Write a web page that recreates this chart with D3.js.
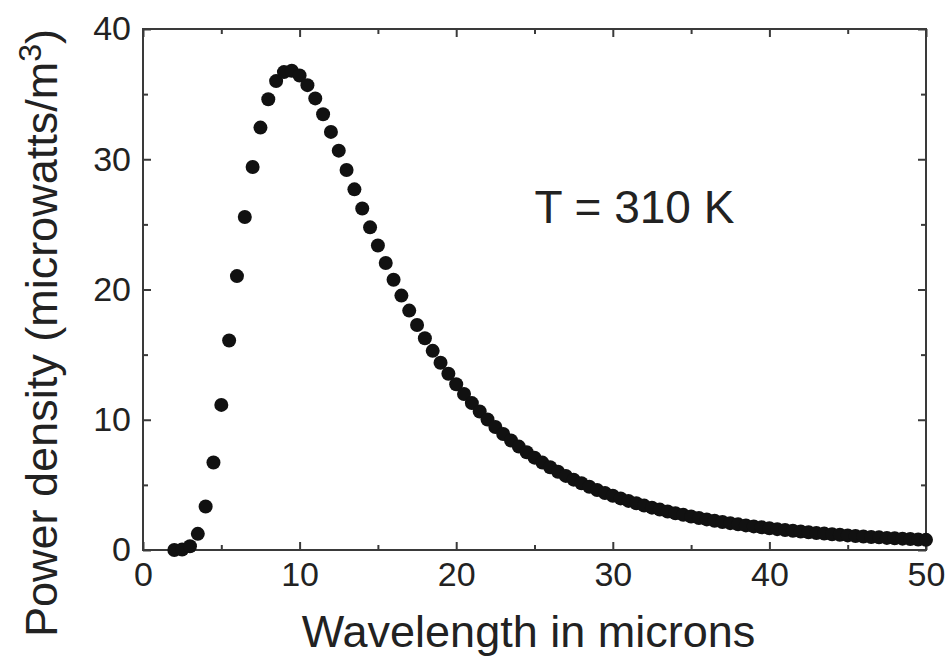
<!DOCTYPE html>
<html>
<head>
<meta charset="utf-8">
<script src="https://d3js.org/d3.v7.min.js"></script>
<style>
    body { margin: 0; background: #fff; }
    text { font-family: "Liberation Sans", Arial, Helvetica, sans-serif; fill: #222; }
</style>
</head>
<body>
<svg id="drawing_region"></svg>
<script>
// wavelength (microns) of each measured point
const wavelengths = [
    2, 2.5, 3, 3.5, 4, 4.5, 5, 5.5, 6, 6.5, 7, 7.5, 8, 8.5, 9, 9.5, 10, 10.5,
    11, 11.5, 12, 12.5, 13, 13.5, 14, 14.5, 15, 15.5, 16, 16.5, 17, 17.5, 18, 18.5,
    19, 19.5, 20, 20.5, 21, 21.5, 22, 22.5, 23, 23.5, 24, 24.5, 25, 25.5, 26, 26.5,
    27, 27.5, 28, 28.5, 29, 29.5, 30, 30.5, 31, 31.5, 32, 32.5, 33, 33.5, 34, 34.5,
    35, 35.5, 36, 36.5, 37, 37.5, 38, 38.5, 39, 39.5, 40, 40.5, 41, 41.5, 42, 42.5,
    43, 43.5, 44, 44.5, 45, 45.5, 46, 46.5, 47, 47.5, 48, 48.5, 49, 49.5, 50
];

// power density (microwatts/m3)
const power = [
    0.001, 0.033, 0.29, 1.24, 3.34, 6.72, 11.14, 16.08, 21.03, 25.57, 29.41, 32.43, 34.61, 36.00, 36.69, 36.80, 36.43, 35.69,
    34.67, 33.45, 32.10, 30.66, 29.18, 27.69, 26.22, 24.77, 23.38, 22.03, 20.75, 19.53, 18.38, 17.28, 16.26, 15.29,
    14.38, 13.53, 12.73, 11.98, 11.28, 10.63, 10.02, 9.44, 8.91, 8.41, 7.94, 7.50, 7.09, 6.71, 6.35, 6.01,
    5.69, 5.40, 5.12, 4.86, 4.61, 4.38, 4.16, 3.96, 3.77, 3.59, 3.41, 3.25, 3.10, 2.96, 2.82, 2.70,
    2.57, 2.46, 2.35, 2.25, 2.15, 2.06, 1.97, 1.89, 1.81, 1.74, 1.67, 1.60, 1.54, 1.48, 1.42, 1.36,
    1.31, 1.26, 1.21, 1.17, 1.12, 1.08, 1.04, 1.00, 0.97, 0.93, 0.90, 0.87, 0.84, 0.81, 0.78
];

const x_ticks = [0, 10, 20, 30, 40, 50];
const x_minor = [5, 15, 25, 35, 45];
const y_ticks = [0, 10, 20, 30, 40];
const y_minor = [5, 15, 25, 35];

const data = wavelengths.map((w, i) => ({ x: w, y: power[i] }));

var config = {
    parent: '#drawing_region',
    width: 946,
    height: 658,
    margin: { top: 29, right: 20, bottom: 108, left: 143 }
};

const svg = d3.select(config.parent)
    .attr('width', config.width)
    .attr('height', config.height);

const inner_width = config.width - config.margin.left - config.margin.right;
const inner_height = config.height - config.margin.top - config.margin.bottom;

const chart = svg.append('g')
    .attr('transform', `translate(${config.margin.left}, ${config.margin.top})`);

const xscale = d3.scaleLinear()
    .domain([0, 50])
    .range([0, inner_width]);

const yscale = d3.scaleLinear()
    .domain([0, 40])
    .range([inner_height, 0]);

// frame
chart.append('rect')
    .attr('width', inner_width)
    .attr('height', inner_height)
    .attr('fill', 'none')
    .attr('stroke', '#3a3a3a')
    .attr('stroke-width', 2);

function styleAxis(g) {
    g.select('.domain').remove();
    g.selectAll('.tick line').attr('stroke', '#3a3a3a').attr('stroke-width', 2);
    g.selectAll('.tick text')
        .attr('font-size', '34px')
        .attr('fill', '#222')
        .attr('font-family', '"Liberation Sans", Arial, sans-serif');
}

// bottom axis, ticks pointing inwards
chart.append('g')
    .attr('transform', `translate(0, ${inner_height})`)
    .call(d3.axisBottom(xscale).tickValues(x_ticks).tickSizeInner(-8).tickSizeOuter(0).tickPadding(12))
    .call(styleAxis);
chart.append('g')
    .attr('transform', `translate(0, ${inner_height})`)
    .call(d3.axisBottom(xscale).tickValues(x_minor).tickSizeInner(-5).tickSizeOuter(0).tickFormat(''))
    .call(styleAxis);

// top axis
chart.append('g')
    .call(d3.axisTop(xscale).tickValues(x_ticks).tickSizeInner(-8).tickSizeOuter(0).tickFormat(''))
    .call(styleAxis);
chart.append('g')
    .call(d3.axisTop(xscale).tickValues(x_minor).tickSizeInner(-5).tickSizeOuter(0).tickFormat(''))
    .call(styleAxis);

// left axis
chart.append('g')
    .call(d3.axisLeft(yscale).tickValues(y_ticks).tickSizeInner(-8).tickSizeOuter(0).tickPadding(12))
    .call(styleAxis);
chart.append('g')
    .call(d3.axisLeft(yscale).tickValues(y_minor).tickSizeInner(-5).tickSizeOuter(0).tickFormat(''))
    .call(styleAxis);

// right axis
chart.append('g')
    .attr('transform', `translate(${inner_width}, 0)`)
    .call(d3.axisRight(yscale).tickValues(y_ticks).tickSizeInner(-8).tickSizeOuter(0).tickFormat(''))
    .call(styleAxis);
chart.append('g')
    .attr('transform', `translate(${inner_width}, 0)`)
    .call(d3.axisRight(yscale).tickValues(y_minor).tickSizeInner(-5).tickSizeOuter(0).tickFormat(''))
    .call(styleAxis);

// points
chart.selectAll('circle').data(data).join('circle')
    .attr('cx', d => xscale(d.x))
    .attr('cy', d => yscale(d.y))
    .attr('r', 7)
    .attr('fill', '#111');

// annotation
chart.append('text')
    .attr('x', xscale(25))
    .attr('y', yscale(25.1))
    .attr('font-size', '46px')
    .text('T = 310 K');

// axis titles
svg.append('text')
    .attr('x', config.margin.left + inner_width / 2 - 6)
    .attr('y', 647)
    .attr('text-anchor', 'middle')
    .attr('font-size', '45px')
    .text('Wavelength in microns');

const ytitle = svg.append('text')
    .attr('transform', `translate(57, 333) rotate(-90)`)
    .attr('text-anchor', 'middle')
    .attr('font-size', '45px');
ytitle.append('tspan').text('Power density (microwatts/m');
ytitle.append('tspan').attr('font-size', '32px').attr('dy', '-16').text('3');
ytitle.append('tspan').attr('dy', '16').text(')');
</script>
</body>
</html>
